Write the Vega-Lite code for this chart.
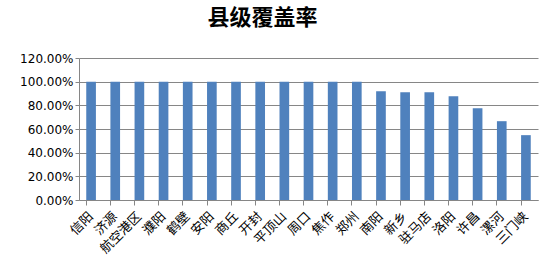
{
  "$schema": "https://vega.github.io/schema/vega-lite/v6.json",
  "width": 459,
  "height": 142,
  "autosize": {"type": "none"},
  "padding": {"left": 79, "top": 58, "right": 15, "bottom": 71},
  "background": "white",
  "title": {"text": "县级覆盖率", "font": "Noto Sans CJK SC", "fontSize": 22, "fontWeight": "bold", "color": "#000", "anchor": "middle", "offset": 22, "dx": -46},
  "data": {"values": [
    {"city": "信阳", "rate": 1.0},
    {"city": "济源", "rate": 1.0},
    {"city": "航空港区", "rate": 1.0},
    {"city": "濮阳", "rate": 1.0},
    {"city": "鹤壁", "rate": 1.0},
    {"city": "安阳", "rate": 1.0},
    {"city": "商丘", "rate": 1.0},
    {"city": "开封", "rate": 1.0},
    {"city": "平顶山", "rate": 1.0},
    {"city": "周口", "rate": 1.0},
    {"city": "焦作", "rate": 1.0},
    {"city": "郑州", "rate": 1.0},
    {"city": "南阳", "rate": 0.918},
    {"city": "新乡", "rate": 0.91},
    {"city": "驻马店", "rate": 0.91},
    {"city": "洛阳", "rate": 0.876},
    {"city": "许昌", "rate": 0.775},
    {"city": "漯河", "rate": 0.666},
    {"city": "三门峡", "rate": 0.548}
  ]},
  "mark": {"type": "bar", "color": "#4F81BD"},
  "encoding": {
    "x": {"field": "city", "type": "nominal", "sort": null, "title": null,
      "scale": {"paddingInner": 0.6, "paddingOuter": 0.3},
      "axis": {"labelAngle": -45, "labelAlign": "right", "labelBaseline": "middle", "labelFont": "Noto Sans CJK SC", "labelFontSize": 13, "labelColor": "#000", "domainColor": "#868686", "tickColor": "#868686", "tickSize": 5, "bandPosition": 0, "labelPadding": 9}},
    "y": {"field": "rate", "type": "quantitative", "title": null,
      "scale": {"domain": [0, 1.2], "nice": false},
      "axis": {"values": [0, 0.2, 0.4, 0.6, 0.8, 1.0, 1.2], "format": ".2%", "labelFont": "DejaVu Sans", "labelFontSize": 12, "labelColor": "#000", "domain": true, "domainColor": "#868686", "ticks": true, "tickColor": "#868686", "tickSize": 4, "gridColor": "#868686", "gridWidth": 1, "labelPadding": 2}}
  },
  "config": {"view": {"stroke": null}}
}
